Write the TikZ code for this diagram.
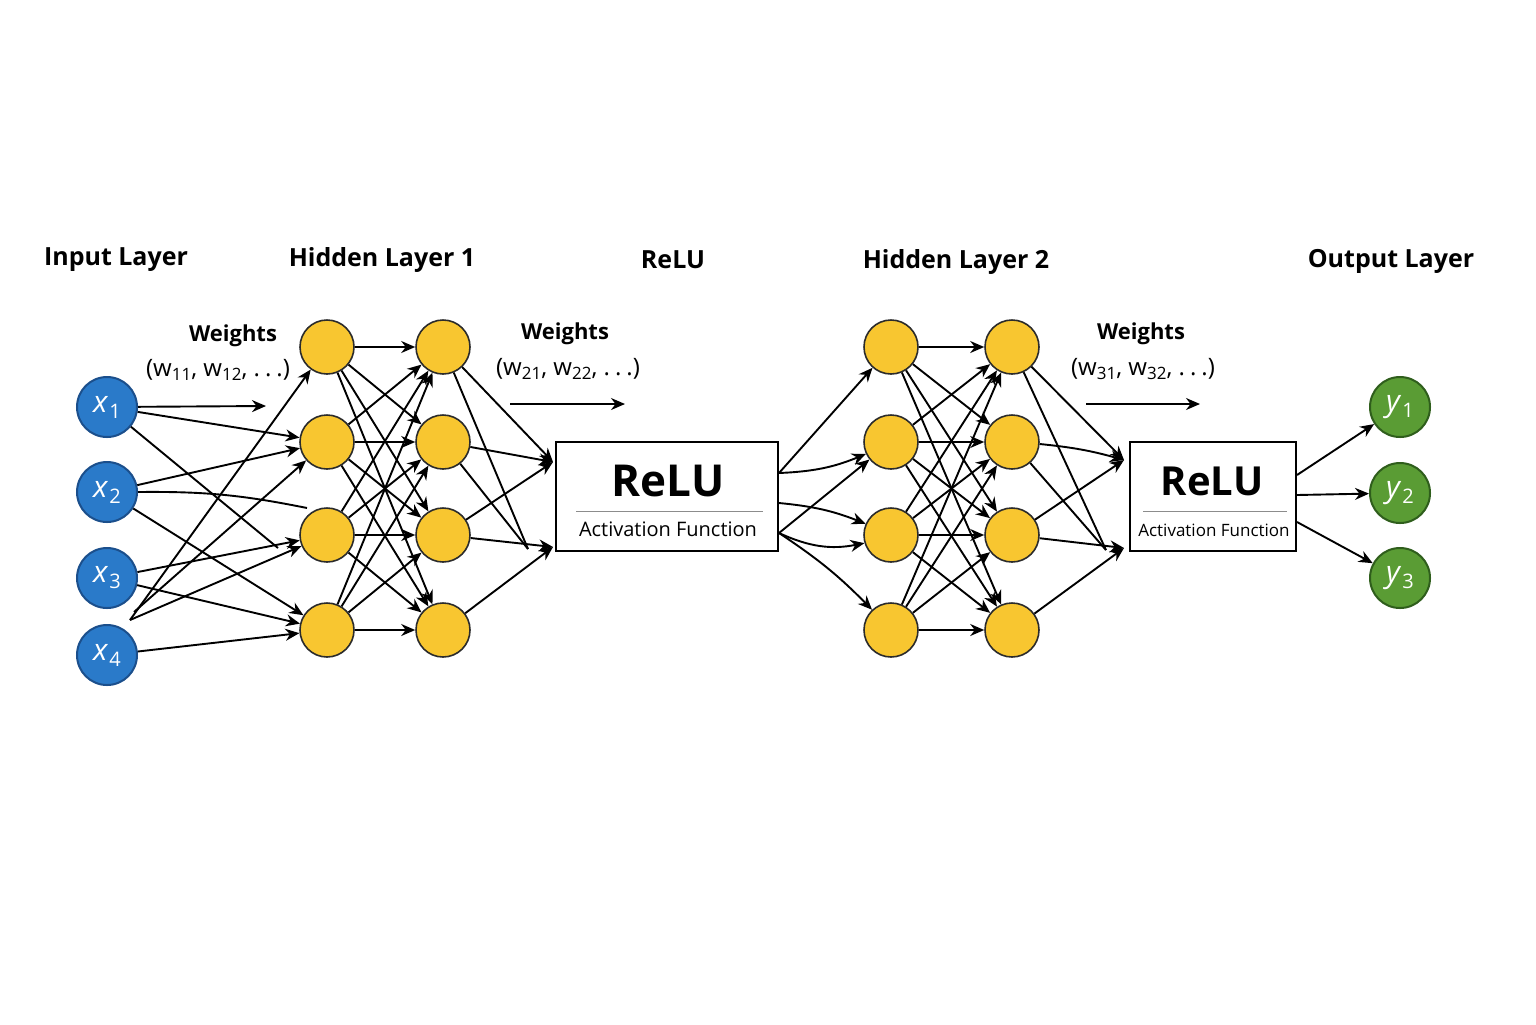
\documentclass[tikz,border=0pt]{standalone}
\usepackage{fontspec}
\setmainfont{Open Sans}
\usetikzlibrary{arrows.meta}
\definecolor{inblue}{HTML}{2A7AC9}
\definecolor{inedge}{HTML}{1B4F8C}
\definecolor{hidyel}{HTML}{F8C630}
\definecolor{hidedge}{HTML}{2B2B2B}
\definecolor{outgreen}{HTML}{5A9C34}
\definecolor{outedge}{HTML}{2F5E1C}
\newcommand{\nlab}[2]{\textit{#1}\kern0.5pt\raisebox{-3pt}{\fontsize{10}{10}\selectfont #2}}
\newcommand{\wsub}[1]{w\raisebox{-2pt}{\fontsize{8.5}{8.5}\selectfont #1}}
\newcommand{\sdots}{.\kern2.5pt.\kern2.5pt.}
\begin{document}
\begin{tikzpicture}[x=0.5pt,y=-0.5pt,
  inp/.style={circle,fill=inblue,draw=inedge,line width=1pt,minimum size=30pt,inner sep=0pt,text=white,font=\fontsize{15}{15}\selectfont},
  hid/.style={circle,fill=hidyel,draw=hidedge,line width=0.8pt,minimum size=27pt,inner sep=0pt},
  outp/.style={circle,fill=outgreen,draw=outedge,line width=1pt,minimum size=30pt,inner sep=0pt,text=white,font=\fontsize{15}{15}\selectfont},
  conn/.style={-{Stealth[length=7pt,width=6pt]},line width=0.95pt},
  plainln/.style={line width=0.95pt},
  title/.style={font=\bfseries\fontsize{12.5}{14}\selectfont},
  wtitle/.style={font=\bfseries\fontsize{11}{13}\selectfont},
  wsubl/.style={font=\fontsize{12}{14}\selectfont},
  relubox/.style={draw,line width=0.8pt,fill=white,inner sep=0pt},
  seprule/.style={draw=black!45,line width=0.5pt}
]
\useasboundingbox (0,0) rectangle (1536,1024);
\fill[white] (0,0) rectangle (1536,1024);

% titles
\node[title] (t1) at (116,260) {Input Layer};
\node[title] (t2) at (382,260) {Hidden Layer 1};
\node[title] (t3) at (673,260) {ReLU};
\node[title] (t4) at (956,262) {Hidden Layer 2};
\node[title] (t5) at (1391,261) {Output Layer};

% weights labels
\node[wtitle] (w1t) at (233,336) {Weights};
\node[wsubl] (w1s) at (218,370) {(\wsub{11}, \wsub{12}, \sdots)};
\node[wtitle] (w2t) at (565,334) {Weights};
\node[wsubl] (w2s) at (568,369) {(\wsub{21}, \wsub{22}, \sdots)};
\node[wtitle] (w3t) at (1141,334) {Weights};
\node[wsubl] (w3s) at (1143,369) {(\wsub{31}, \wsub{32}, \sdots)};

% nodes
\foreach \i/\y in {1/407,2/492,3/578,4/655}
  \node[inp] (x\i) at (107,\y) {\nlab{x}{\i}};
\foreach \i/\y in {1/347,2/442,3/535,4/630} {
  \node[hid] (a\i) at (327,\y) {};
  \node[hid] (b\i) at (443,\y) {};
  \node[hid] (c\i) at (891,\y) {};
  \node[hid] (d\i) at (1012,\y) {};
}
\foreach \i/\y in {1/407,2/493,3/578}
  \node[outp] (y\i) at (1400,\y) {\nlab{y}{\i}};

% ReLU boxes
\node[relubox,minimum width=111pt,minimum height=54.5pt] (r1) at (667,496.5) {};
\node[font=\bfseries\fontsize{22}{22}\selectfont] (r1t) at (668,481) {ReLU};
\draw[seprule] (576,511) -- (763,511);
\node[font=\fontsize{10}{10}\selectfont] (r1s) at (668,529) {Activation Function};

\node[relubox,minimum width=83pt,minimum height=54.5pt] (r2) at (1213,496.5) {};
\node[font=\bfseries\fontsize{20}{20}\selectfont] (r2t) at (1212,481) {ReLU};
\draw[seprule] (1143,511) -- (1287,511);
\node[font=\fontsize{8.5}{8.5}\selectfont] (r2s) at (1214,530) {Activation Function};

% free-end coordinates
\coordinate (wa) at (266,406);
\coordinate (wbs) at (510,404); \coordinate (wbe) at (625,404);
\coordinate (wcs) at (1086,404); \coordinate (wce) at (1200,404);
\coordinate (f1) at (278,548);
\coordinate (f2) at (307,508);
\coordinate (x4o) at (130,620);
\coordinate (x4p) at (134,612);
\coordinate (p1) at (553,462); \coordinate (p2) at (553,547); \coordinate (p3) at (528,549);
\coordinate (q1) at (779,473); \coordinate (q2) at (779,503); \coordinate (q3) at (779,533);
\coordinate (s1) at (1124,460); \coordinate (s2) at (1124,548); \coordinate (s3) at (1106,550);
\coordinate (u1) at (1297,475); \coordinate (u2) at (1297,495); \coordinate (u3) at (1297,522);

% weights arrows
\draw[conn] (x1) -- (wa);
\draw[conn] (wbs) -- (wbe);
\draw[conn] (wcs) -- (wce);

% input -> hidden 1a
\draw[conn] (x1) -- (a2);
\draw[plainln] (x1) -- (f1);
\draw[conn] (x2) -- (a2);
\draw[plainln] (x2.east) to[bend left=6] (f2);
\draw[conn] (x2) -- (a4);
\draw[conn] (x3) -- (a3);
\draw[conn] (x3) -- (a4);
\draw[conn] (x4o) -- (a1);
\draw[conn] (x4p) -- (a2);
\draw[conn] (x4o) -- (a3);
\draw[conn] (x4) -- (a4);

% hidden meshes
\foreach \i in {1,...,4}
  \foreach \j in {1,...,4} {
    \draw[conn] (a\i) -- (b\j);
    \draw[conn] (c\i) -- (d\j);
  }

% hidden 1b -> ReLU 1
\draw[conn] (b1) -- (p1);
\draw[plainln] (b1) -- (p3);
\draw[conn] (b2) -- (p1);
\draw[plainln] (b2) -- (p3);
\draw[conn] (b3) -- (p1);
\draw[conn] (b3) -- (p2);
\draw[conn] (b4) -- (p2);

% ReLU 1 -> hidden 2a
\draw[conn] (q1) -- (c1);
\draw[conn] (q1) to[bend right=10] (c2);
\draw[conn] (q2) to[bend left=8] (c3);
\draw[conn] (q3) -- (c2);
\draw[conn] (q3) to[bend right=18] (c3);
\draw[conn] (q3) to[bend left=6] (c4);

% hidden 2b -> ReLU 2
\draw[conn] (d1) -- (s1);
\draw[plainln] (d1) -- (s3);
\draw[conn] (d2) to[bend left=5] (s1);
\draw[plainln] (d2) -- (s3);
\draw[conn] (d3) -- (s1);
\draw[conn] (d3) -- (s2);
\draw[conn] (d4) -- (s2);

% ReLU 2 -> outputs
\draw[conn] (u1) -- (y1);
\draw[conn] (u2) -- (y2);
\draw[conn] (u3) -- (y3);
\end{tikzpicture}
\end{document}
